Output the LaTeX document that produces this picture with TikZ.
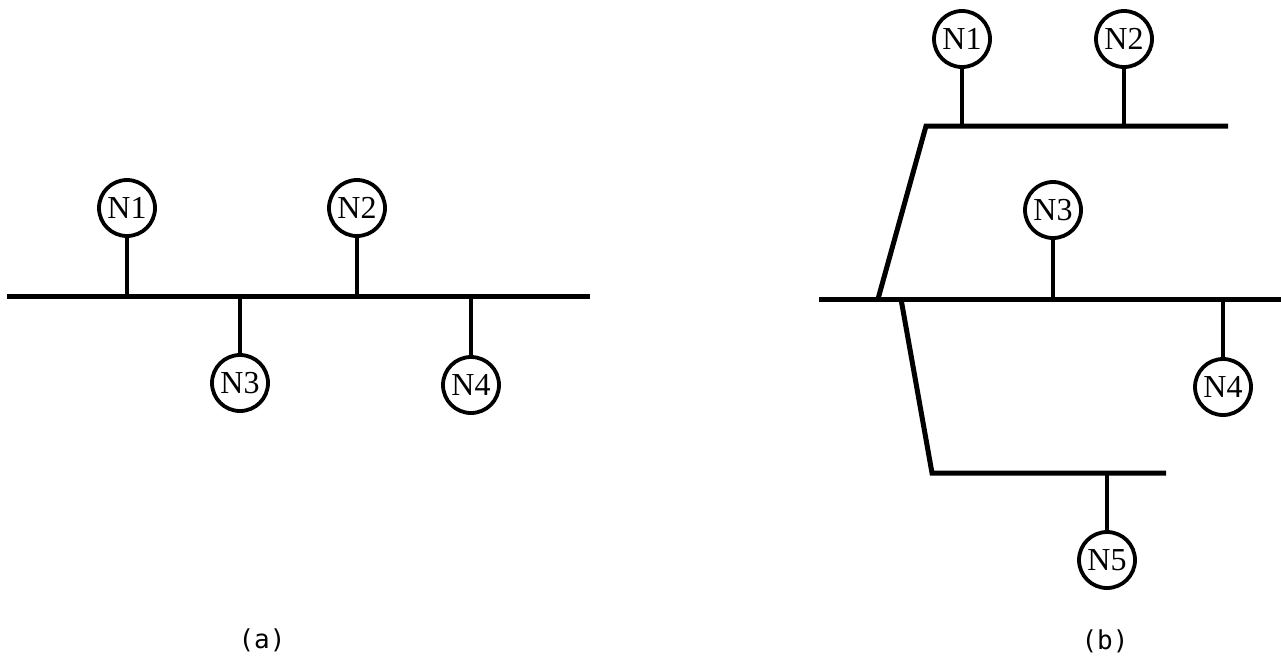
\documentclass[tikz,border=0pt]{standalone}
\usepackage{fontspec}
\setmainfont{Liberation Serif}
\newfontfamily\labelfont{DejaVu Sans Mono}
\tikzset{
  station/.style={circle, draw, line width=3.8pt, minimum size=56pt, inner sep=0pt,
                  font=\fontsize{32}{32}\selectfont},
  bus/.style={line width=5pt},
  tap/.style={line width=4pt},
  caption/.style={font=\labelfont\fontsize{26}{26}\selectfont}
}
\begin{document}
\begin{tikzpicture}[x=1pt,y=-1pt]
\useasboundingbox[fill=white] (0,0) rectangle (1281,657);

% ---------- panel (a) ----------
\coordinate (aL) at (7,296);
\coordinate (aR) at (590,296);
\draw[bus] (aL) -- (aR);
\node[station] (a1) at (127,208) {N1};
\node[station] (a2) at (357,208) {N2};
\node[station] (a3) at (240,383) {N3};
\node[station] (a4) at (471,385) {N4};
\draw[tap] (a1.south) -- (a1.south |- aL);
\draw[tap] (a2.south) -- (a2.south |- aL);
\draw[tap] (a3.north) -- (a3.north |- aL);
\draw[tap] (a4.north) -- (a4.north |- aL);
\node[caption] (capa) at (262,640) {(a)};

% ---------- panel (b) ----------
\coordinate (bT0) at (926,126);
\coordinate (bT1) at (1228,126);
\coordinate (bM0) at (819,299);
\coordinate (bM1) at (1281,299);
\coordinate (bJ1) at (878,299);
\coordinate (bJ2) at (901,299);
\coordinate (bL0) at (932,473);
\coordinate (bL1) at (1166,473);
\draw[bus, line join=miter] (bJ1) -- (bT0) -- (bT1);
\draw[bus] (bM0) -- (bM1);
\draw[bus, line join=miter] (bJ2) -- (bL0) -- (bL1);
\node[station] (b1) at (962,39) {N1};
\node[station] (b2) at (1124,39) {N2};
\node[station] (b3) at (1053,210) {N3};
\node[station] (b4) at (1223,387) {N4};
\node[station] (b5) at (1107,560) {N5};
\draw[tap] (b1.south) -- (b1.south |- bT0);
\draw[tap] (b2.south) -- (b2.south |- bT0);
\draw[tap] (b3.south) -- (b3.south |- bM0);
\draw[tap] (b4.north) -- (b4.north |- bM0);
\draw[tap] (b5.north) -- (b5.north |- bL0);
\node[caption] (capb) at (1105,641) {(b)};
\end{tikzpicture}
\end{document}
